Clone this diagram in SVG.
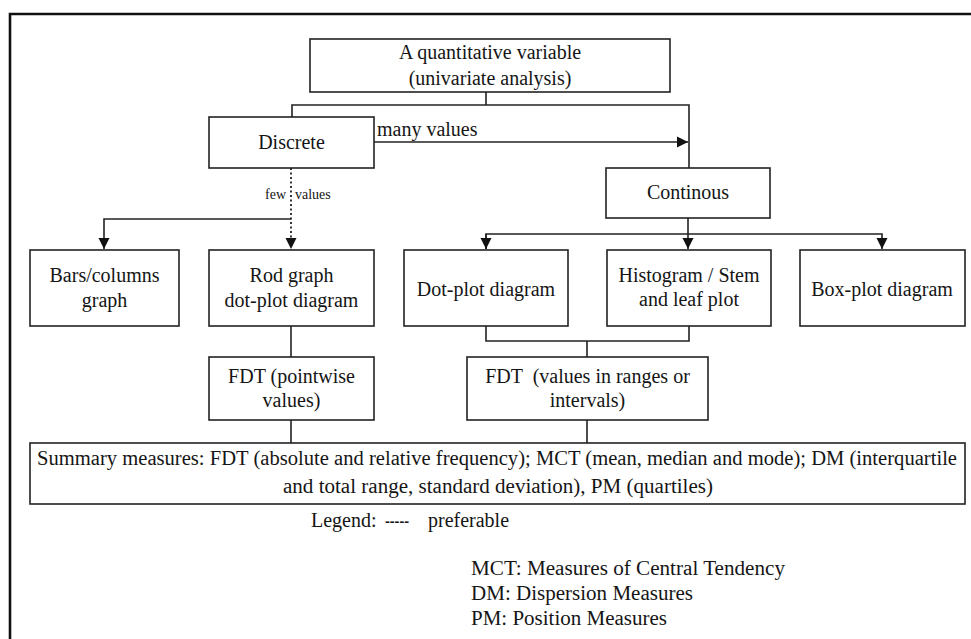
<svg xmlns="http://www.w3.org/2000/svg" width="971" height="639" viewBox="0 0 971 639">
<style>
.box{fill:#fff;stroke:#222;stroke-width:1.6}
.c{text-anchor:middle}
.ln{fill:none;stroke:#222;stroke-width:1.6}
.dot{fill:none;stroke:#222;stroke-width:1.8;stroke-dasharray:2 2.5}
</style>
<defs>
<marker id="ah" viewBox="0 0 10 10" refX="10" refY="5" markerWidth="11" markerHeight="12" markerUnits="userSpaceOnUse" orient="auto">
<path d="M0,0 L10,5 L0,10 z" fill="#111"/>
</marker>
</defs>
<rect width="971" height="639" fill="#fff"/>
<path d="M10,639 L10,14 L971,14" fill="none" stroke="#111" stroke-width="2.6"/>

<g id="connectors">
<path class="ln" d="M486,92 V105 M292,117 V105 H689 V168"/>
<path class="ln" d="M374,142 H688" marker-end="url(#ah)"/>
<path class="dot" d="M291,168 V249" marker-end="url(#ah)"/>
<path class="ln" d="M291,219 H104 V249" marker-end="url(#ah)"/>
<path class="ln" d="M688,218 V249" marker-end="url(#ah)"/>
<path class="ln" d="M486,249 V234 H882 V249" marker-end="url(#ah)"/>
<path class="ln" d="M486,234 V249" marker-end="url(#ah)"/>
<path class="ln" d="M291,326 V357"/>
<path class="ln" d="M486,326 V341 H689 V326 M587,341 V357"/>
<path class="ln" d="M291,420 V443 M587,420 V443"/>
</g>
<g font-family="Liberation Serif, Tinos, Noto Serif, DejaVu Serif, serif" font-size="20" fill="#151515">
<text x="377" y="136">many values</text>
<text font-size="14" x="286" y="199" text-anchor="end">few</text>
<text font-size="14" x="295" y="199">values</text>

<g id="quant">
<rect class="box" x="310" y="39" width="360" height="53"/>
<text class="c" x="490" y="59">A quantitative variable</text>
<text class="c" x="490" y="85">(univariate analysis)</text>
</g>
<g id="discrete">
<rect class="box" x="209" y="117" width="165" height="51"/>
<text class="c" x="291.5" y="149">Discrete</text>
</g>
<g id="continous">
<rect class="box" x="606" y="168" width="164" height="50"/>
<text class="c" x="688" y="199">Continous</text>
</g>
<g id="bars">
<rect class="box" x="30" y="250" width="149" height="76"/>
<text class="c" x="104.5" y="282">Bars/columns</text>
<text class="c" x="104.5" y="307">graph</text>
</g>
<g id="rod">
<rect class="box" x="209" y="250" width="165" height="76"/>
<text class="c" x="291.5" y="282">Rod graph</text>
<text class="c" x="291.5" y="307">dot-plot diagram</text>
</g>
<g id="dotplot">
<rect class="box" x="404" y="250" width="164" height="76"/>
<text class="c" x="486" y="296">Dot-plot diagram</text>
</g>
<g id="histogram">
<rect class="box" x="607" y="250" width="164" height="76"/>
<text class="c" x="689" y="282">Histogram / Stem</text>
<text class="c" x="689" y="306">and leaf plot</text>
</g>
<g id="boxplot">
<rect class="box" x="800" y="250" width="165" height="76"/>
<text class="c" x="882" y="296">Box-plot diagram</text>
</g>
<g id="fdt-point">
<rect class="box" x="209" y="357" width="165" height="63"/>
<text class="c" x="291.5" y="383">FDT (pointwise</text>
<text class="c" x="291.5" y="407">values)</text>
</g>
<g id="fdt-range">
<rect class="box" x="467" y="357" width="241" height="63"/>
<text class="c" x="587.5" y="383" xml:space="preserve">FDT  (values in ranges or</text>
<text class="c" x="587.5" y="407">intervals)</text>
</g>
<g id="summary">
<rect class="box" x="30" y="443" width="935" height="61"/>
<text class="c" x="497" y="465" textLength="920" lengthAdjust="spacingAndGlyphs">Summary measures: FDT (absolute and relative frequency); MCT (mean, median and mode); DM (interquartile</text>
<text class="c" x="498" y="493" textLength="430" lengthAdjust="spacingAndGlyphs">and total range, standard deviation), PM (quartiles)</text>
</g>
<g id="legend">
<text x="311" y="527">Legend:</text>
<text x="385" y="527" textLength="24" lengthAdjust="spacingAndGlyphs">-----</text>
<text x="428" y="527">preferable</text>
<text x="471" y="575" textLength="314" lengthAdjust="spacingAndGlyphs">MCT: Measures of Central Tendency</text>
<text x="471" y="600" textLength="222" lengthAdjust="spacingAndGlyphs">DM: Dispersion Measures</text>
<text x="471" y="625" textLength="196" lengthAdjust="spacingAndGlyphs">PM: Position Measures</text>
</g>
</g>
</svg>
